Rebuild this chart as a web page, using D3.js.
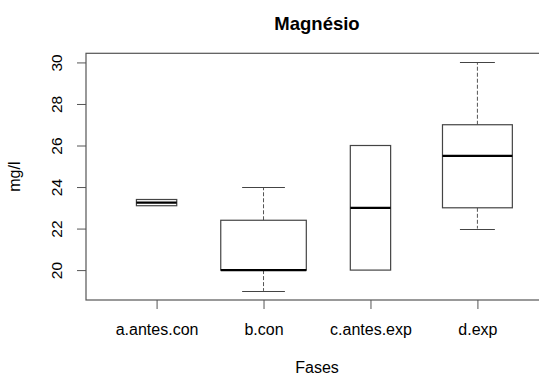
<!DOCTYPE html>
<html>
    <head>
        <meta charset="utf-8"/>
        <title> Magnesio boxplot </title>
        <script src="https://d3js.org/d3.v7.min.js"></script>
        <style>
            body { margin: 0; background: white; }
            text { font-family: "Liberation Sans", Arial, sans-serif; fill: black; }
        </style>
    </head>

    <body>
        <svg id="box-viz" width="539" height="376"></svg>

        <script>
            // values
            var fases = ["a.antes.con", "b.con", "c.antes.exp", "d.exp"];
            var counts = [2, 9, 2, 6];
            var whiskerLow = [23.1, 19, 20, 22];
            var q1 = [23.1, 20, 20, 23];
            var medians = [23.25, 20, 23, 25.5];
            var q3 = [23.4, 22.4, 26, 27];
            var whiskerHigh = [23.4, 24, 26, 30];
            var yTicks = [20, 22, 24, 26, 28, 30];

            var svg = d3.select("#box-viz");

            // plot region like R: 4% extension on both axes
            var yMin = d3.min(whiskerLow), yMax = d3.max(whiskerHigh);
            var yPad = (yMax - yMin) * 0.04;
            var y = d3.scaleLinear()
                .domain([yMin - yPad, yMax + yPad])
                .range([300, 53.3]);

            var xPad = (fases.length) * 0.04;
            var x = d3.scaleLinear()
                .domain([0.5 - xPad, fases.length + 0.5 + xPad])
                .range([86, 548]);

            var unit = x(2) - x(1);
            var maxN = d3.max(counts);

            var boxes = fases.map(function(f, i){
                return {
                    name: f,
                    pos: i + 1,
                    w: 0.8 * unit * Math.sqrt(counts[i] / maxN),
                    lo: whiskerLow[i], q1: q1[i], med: medians[i], q3: q3[i], hi: whiskerHigh[i]
                };
            });

            var g = svg.selectAll("g.box")
                .data(boxes)
                .enter().append("g")
                .attr("class", "box");

            // dashed whiskers
            g.append("line")
                .attr("x1", function(d){ return x(d.pos); })
                .attr("x2", function(d){ return x(d.pos); })
                .attr("y1", function(d){ return y(d.q3); })
                .attr("y2", function(d){ return y(d.hi); })
                .attr("stroke", "#555")
                .attr("stroke-dasharray", "4,2")
                .style("display", function(d){ return d.hi > d.q3 ? null : "none"; });
            g.append("line")
                .attr("x1", function(d){ return x(d.pos); })
                .attr("x2", function(d){ return x(d.pos); })
                .attr("y1", function(d){ return y(d.q1); })
                .attr("y2", function(d){ return y(d.lo); })
                .attr("stroke", "#555")
                .attr("stroke-dasharray", "4,2")
                .style("display", function(d){ return d.lo < d.q1 ? null : "none"; });

            // staples
            g.append("line")
                .attr("x1", function(d){ return x(d.pos) - d.w / 4; })
                .attr("x2", function(d){ return x(d.pos) + d.w / 4; })
                .attr("y1", function(d){ return Math.round(y(d.hi)) + 0.5; })
                .attr("y2", function(d){ return Math.round(y(d.hi)) + 0.5; })
                .attr("stroke", "#444")
                .style("display", function(d){ return d.hi > d.q3 ? null : "none"; });
            g.append("line")
                .attr("x1", function(d){ return x(d.pos) - d.w / 4; })
                .attr("x2", function(d){ return x(d.pos) + d.w / 4; })
                .attr("y1", function(d){ return Math.round(y(d.lo)) + 0.5; })
                .attr("y2", function(d){ return Math.round(y(d.lo)) + 0.5; })
                .attr("stroke", "#444")
                .style("display", function(d){ return d.lo < d.q1 ? null : "none"; });

            // boxes
            g.append("rect")
                .attr("x", function(d){ return x(d.pos) - d.w / 2; })
                .attr("y", function(d){ return y(d.q3); })
                .attr("width", function(d){ return d.w; })
                .attr("height", function(d){ return y(d.q1) - y(d.q3); })
                .attr("fill", "white")
                .attr("stroke", "#444")
                .attr("stroke-width", 1.2);

            // medians
            g.append("line")
                .attr("x1", function(d){ return x(d.pos) - d.w / 2; })
                .attr("x2", function(d){ return x(d.pos) + d.w / 2; })
                .attr("y1", function(d){ return y(d.med); })
                .attr("y2", function(d){ return y(d.med); })
                .attr("stroke", "black")
                .attr("stroke-width", 2.2);

            // frame
            svg.append("rect")
                .attr("x", x.range()[0])
                .attr("y", y.range()[1])
                .attr("width", x.range()[1] - x.range()[0])
                .attr("height", y.range()[0] - y.range()[1])
                .attr("fill", "none")
                .attr("stroke", "#555")
                .attr("stroke-width", 1.2);

            // y axis
            var yAxis = svg.append("g")
                .attr("transform", "translate(" + x.range()[0] + ",0)")
                .call(d3.axisLeft(y).tickValues(yTicks).tickSize(9).tickPadding(0).tickFormat(d3.format("d")));
            yAxis.select(".domain").remove();
            yAxis.selectAll(".tick line").attr("stroke", "#555");
            yAxis.selectAll(".tick text")
                .attr("x", null).attr("dy", null)
                .attr("transform", "translate(-24,0) rotate(-90)")
                .attr("text-anchor", "middle")
                .attr("font-size", "15.5px");

            // x axis
            var xAxis = svg.append("g")
                .attr("transform", "translate(0," + y.range()[0] + ")")
                .call(d3.axisBottom(x).tickValues([1, 2, 3, 4]).tickSize(9)
                    .tickFormat(function(d){ return fases[d - 1]; }));
            xAxis.select(".domain").remove();
            xAxis.selectAll(".tick line").attr("stroke", "#555");
            xAxis.selectAll(".tick text")
                .attr("y", 35).attr("dy", null)
                .attr("font-size", "16px");

            // titles
            svg.append("text")
                .attr("x", (x.range()[0] + x.range()[1]) / 2)
                .attr("y", 30)
                .attr("text-anchor", "middle")
                .attr("font-size", "18.5px")
                .attr("font-weight", "bold")
                .text("Magnésio");

            svg.append("text")
                .attr("x", (x.range()[0] + x.range()[1]) / 2)
                .attr("y", 373)
                .attr("text-anchor", "middle")
                .attr("font-size", "16px")
                .text("Fases");

            svg.append("text")
                .attr("transform", "translate(20," + (y.range()[0] + y.range()[1]) / 2 + ") rotate(-90)")
                .attr("text-anchor", "middle")
                .attr("font-size", "16px")
                .text("mg/l");
        </script>
    </body>
</html>
